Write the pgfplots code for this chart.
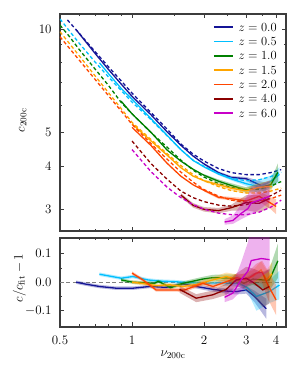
\RequirePackage{fix-cm}
\documentclass[border=0pt]{standalone}
\usepackage{pgfplots}
\pgfplotsset{compat=1.18}
\usepackage{pgfplotstable}

\definecolor{cz0}{RGB}{20,20,150}
\definecolor{cz05}{RGB}{0,191,255}
\definecolor{cz1}{RGB}{0,128,0}
\definecolor{cz15}{RGB}{255,165,0}
\definecolor{cz2}{RGB}{255,69,0}
\definecolor{cz4}{RGB}{139,0,0}
\definecolor{cz6}{RGB}{200,0,200}
\definecolor{framec}{RGB}{60,60,60}

% ---------- fits (dashed) ----------
\pgfplotstableread{
nu c
0.537 10.62
0.6 9.736
0.7 8.602
0.8 7.743
0.9 7.072
1.0 6.511
1.2 5.719
1.4 5.122
1.6 4.632
1.8 4.331
2.0 4.133
2.3 3.931
2.6 3.827
3.0 3.776
3.4 3.776
3.8 3.827
4.2 3.905
}\FitA
\pgfplotstableread{
nu c
0.5 10.692
0.55 9.828
0.6 9.106
0.7 8.023
0.8 7.235
0.9 6.630
1.0 6.131
1.2 5.453
1.4 4.899
1.6 4.461
1.8 4.158
2.0 3.992
2.3 3.799
2.6 3.684
3.0 3.625
3.4 3.650
3.8 3.726
4.2 3.840
}\FitB
\pgfplotstableread{
nu c
0.5 10.258
0.55 9.466
0.6 8.735
0.7 7.656
0.8 6.834
0.9 6.122
1.0 5.669
1.2 5.002
1.4 4.539
1.6 4.161
1.8 3.891
2.0 3.714
2.3 3.556
2.6 3.462
3.0 3.416
3.4 3.427
3.8 3.497
4.2 3.604
}\FitC
\pgfplotstableread{
nu c
0.5 9.814
0.55 9.034
0.6 8.377
0.7 7.315
0.8 6.511
0.9 5.875
1.0 5.355
1.2 4.774
1.4 4.346
1.6 4.011
1.8 3.776
2.0 3.628
2.3 3.485
2.6 3.393
3.0 3.341
3.4 3.337
3.8 3.382
4.2 3.450
}\FitD
\pgfplotstableread{
nu c
0.5 9.491
0.55 8.752
0.6 8.137
0.7 7.145
0.8 6.382
0.9 5.781
1.0 5.284
1.2 4.647
1.4 4.189
1.6 3.840
1.8 3.592
2.0 3.416
2.3 3.270
2.6 3.184
3.0 3.141
3.4 3.162
3.8 3.216
4.2 3.292
}\FitE
\pgfplotstableread{
nu c
1.0 4.726
1.2 4.065
1.4 3.664
1.6 3.382
1.8 3.237
2.0 3.152
2.3 3.079
2.6 3.058
3.0 3.089
3.4 3.173
3.8 3.281
4.2 3.404
}\FitF
\pgfplotstableread{
nu c
1.0 4.463
1.2 3.853
1.4 3.474
1.6 3.237
1.8 3.090
2.0 2.998
2.3 2.918
2.6 2.889
3.0 2.889
3.4 2.938
3.8 3.038
4.2 3.184
}\FitG

% ---------- measured (solid) ----------
\pgfplotstableread{
nu c
0.584 9.946
0.6 9.717
0.7 8.499
0.8 7.604
0.9 6.923
1.0 6.374
1.2 5.633
1.4 5.030
1.6 4.595
1.8 4.275
2.0 4.054
2.3 3.825
2.6 3.705
3.0 3.674
3.4 3.531
3.64 3.452
}\DatA
\pgfplotstableread{
nu c
0.731 7.975
0.8 7.394
0.9 6.723
1.0 6.254
1.2 5.491
1.4 4.914
1.6 4.461
1.8 4.150
2.0 3.976
2.3 3.791
2.6 3.669
3.0 3.553
3.4 3.482
3.8 3.607
4.13 3.782
}\DatB
\pgfplotstableread{
nu c
0.9 6.171
1.0 5.669
1.2 5.012
1.4 4.453
1.6 4.132
1.8 3.914
2.0 3.759
2.3 3.613
2.6 3.510
3.0 3.409
3.4 3.458
3.8 3.532
4.07 3.838
}\DatC
\pgfplotstableread{
nu c
1.0 5.300
1.2 4.731
1.4 4.303
1.6 3.955
1.8 3.738
2.0 3.624
2.3 3.530
2.6 3.447
3.0 3.388
3.4 3.470
3.85 3.490
}\DatD
\pgfplotstableread{
nu c
1.0 5.180
1.2 4.587
1.4 4.076
1.6 3.736
1.8 3.527
2.0 3.399
2.3 3.244
2.6 3.213
3.0 3.166
3.4 3.266
3.8 3.120
4.0 3.052
}\DatE
\pgfplotstableread{
nu c
1.6 3.294
1.8 3.075
2.0 2.994
2.3 2.968
2.6 3.027
3.0 3.132
3.4 3.116
3.75 3.219
}\DatF
\pgfplotstableread{
nu c
2.436 2.750
2.64 2.779
2.86 2.915
3.05 3.008
3.15 3.126
3.47 3.200
3.76 3.267
}\DatG

% ---------- upper bands (closed outlines: upper edge, then lower edge back) ----------
\pgfplotstableread{
nu c
2.0 4.082
2.3 3.856
2.6 3.742
3.0 3.718
3.4 3.619
3.64 3.573
3.64 3.331
3.4 3.443
3.0 3.630
2.6 3.668
2.3 3.794
2.0 4.026
}\BndA
\pgfplotstableread{
nu c
2.0 4.000
2.3 3.821
2.6 3.706
3.0 3.606
3.4 3.656
3.8 3.751
4.13 3.971
4.13 3.593
3.8 3.463
3.4 3.308
3.0 3.500
2.6 3.632
2.3 3.761
2.0 3.952
}\BndB
\pgfplotstableread{
nu c
2.0 3.789
2.3 3.656
2.6 3.563
3.0 3.470
3.4 3.544
3.8 3.638
4.07 4.068
4.07 3.608
3.8 3.426
3.4 3.372
3.0 3.348
2.6 3.457
2.3 3.570
2.0 3.729
}\BndC
\pgfplotstableread{
nu c
2.0 3.653
2.3 3.572
2.6 3.499
3.0 3.456
3.4 3.574
3.85 3.630
3.85 3.350
3.4 3.366
3.0 3.320
2.6 3.395
2.3 3.488
2.0 3.595
}\BndD
\pgfplotstableread{
nu c
2.0 3.426
2.3 3.276
2.6 3.252
3.0 3.229
3.4 3.380
3.8 3.245
4.0 3.205
4.0 2.899
3.8 2.995
3.4 3.152
3.0 3.103
2.6 3.174
2.3 3.212
2.0 3.372
}\BndE
\pgfplotstableread{
nu c
1.6 3.334
1.8 3.121
2.0 3.039
2.3 3.021
2.6 3.088
3.0 3.289
3.4 3.303
3.75 3.412
3.75 3.026
3.4 2.929
3.0 2.975
2.6 2.966
2.3 2.915
2.0 2.949
1.8 3.029
1.6 3.254
}\BndF
\pgfplotstableread{
nu c
2.436 2.802
2.64 2.875
2.86 3.091
3.05 3.300
3.15 3.486
3.47 3.546
3.76 3.634
3.76 3.149
3.47 3.014
3.15 2.890
3.05 2.866
2.86 2.802
2.64 2.716
2.436 2.701
}\BndG

% ---------- residuals ----------
\pgfplotstableread{
nu r
0.584 0.000
0.643 -0.007
0.731 -0.015
0.859 -0.021
1.008 -0.021
1.184 -0.015
1.389 -0.018
1.631 -0.006
1.855 -0.015
2.177 -0.025
2.476 -0.031
2.726 -0.033
3.001 -0.027
3.252 -0.050
3.639 -0.093
}\ResA
\pgfplotstableread{
nu r
0.731 0.028
0.800 0.022
0.901 0.014
1.008 0.020
1.164 0.008
1.300 0.004
1.505 0.002
1.685 -0.001
1.976 -0.004
2.300 -0.002
2.600 -0.004
2.812 -0.004
3.050 -0.021
3.310 -0.050
3.750 -0.033
4.130 -0.010
}\ResB
\pgfplotstableread{
nu r
0.901 0.008
1.008 0.000
1.120 -0.002
1.240 -0.004
1.290 0.003
1.450 -0.019
1.631 -0.004
1.976 0.011
2.177 0.016
2.690 0.014
2.930 -0.004
3.200 0.011
3.520 0.008
3.750 0.008
4.070 0.075
}\ResC
\pgfplotstableread{
nu r
1.000 0.000
1.100 -0.004
1.260 -0.012
1.435 -0.009
1.631 -0.015
1.855 -0.008
2.177 0.008
2.476 0.020
2.810 0.008
3.200 0.020
3.460 0.043
3.650 0.009
3.850 0.030
}\ResD
\pgfplotstableread{
nu r
1.000 0.032
1.110 0.008
1.260 -0.027
1.480 -0.027
1.660 -0.027
1.980 -0.004
2.180 -0.015
2.480 0.002
2.730 0.016
3.000 0.008
3.300 0.032
3.500 0.035
3.700 -0.010
4.000 -0.062
}\ResE
\pgfplotstableread{
nu r
1.580 -0.025
1.855 -0.056
2.177 -0.044
2.476 -0.025
2.726 0.008
3.001 0.014
3.250 -0.004
3.520 -0.027
3.750 -0.015
}\ResF
\pgfplotstableread{
nu r
2.436 -0.053
2.640 -0.038
2.860 0.009
3.050 0.039
3.150 0.076
3.470 0.083
3.760 0.079
}\ResG

% ---------- residual bands (closed outlines) ----------
\pgfplotstableread{
nu r
0.584 0.006
0.643 -0.001
0.731 -0.009
0.859 -0.015
1.008 -0.015
1.184 -0.009
1.389 -0.012
1.631 0.000
1.855 -0.008
2.177 -0.017
2.476 -0.022
2.726 -0.023
3.001 -0.014
3.252 -0.030
3.639 -0.058
3.639 -0.128
3.252 -0.070
3.001 -0.040
2.726 -0.043
2.476 -0.040
2.177 -0.033
1.855 -0.022
1.631 -0.012
1.389 -0.024
1.184 -0.021
1.008 -0.027
0.859 -0.027
0.731 -0.021
0.643 -0.013
0.584 -0.006
}\PolA
\pgfplotstableread{
nu r
0.731 0.034
0.800 0.028
0.901 0.020
1.008 0.026
1.164 0.014
1.300 0.010
1.505 0.008
1.685 0.005
1.976 0.002
2.300 0.006
2.600 0.006
2.812 0.008
3.050 -0.006
3.310 0.000
3.750 0.007
4.130 0.040
4.130 -0.060
3.750 -0.073
3.310 -0.100
3.050 -0.036
2.812 -0.016
2.600 -0.014
2.300 -0.010
1.976 -0.010
1.685 -0.007
1.505 -0.004
1.300 -0.002
1.164 0.002
1.008 0.014
0.901 0.008
0.800 0.016
0.731 0.022
}\PolB
\pgfplotstableread{
nu r
0.901 0.014
1.008 0.006
1.120 0.004
1.240 0.002
1.290 0.009
1.450 -0.013
1.631 0.003
1.976 0.019
2.177 0.026
2.690 0.028
2.930 0.012
3.200 0.031
3.520 0.038
3.750 0.046
4.070 0.135
4.070 0.015
3.750 -0.030
3.520 -0.022
3.200 -0.009
2.930 -0.020
2.690 0.000
2.177 0.006
1.976 0.003
1.631 -0.011
1.450 -0.025
1.290 -0.003
1.240 -0.010
1.120 -0.008
1.008 -0.006
0.901 0.002
}\PolC
\pgfplotstableread{
nu r
1.000 0.006
1.100 0.002
1.260 -0.006
1.435 -0.003
1.631 -0.008
1.855 0.000
2.177 0.018
2.476 0.034
2.810 0.026
3.200 0.042
3.460 0.073
3.650 0.043
3.850 0.070
3.850 -0.010
3.650 -0.025
3.460 0.013
3.200 -0.002
2.810 -0.010
2.476 0.006
2.177 -0.002
1.855 -0.016
1.631 -0.022
1.435 -0.015
1.260 -0.018
1.100 -0.010
1.000 -0.006
}\PolD
\pgfplotstableread{
nu r
1.000 0.038
1.110 0.014
1.260 -0.021
1.480 -0.021
1.660 -0.020
1.980 0.004
2.180 -0.006
2.480 0.014
2.730 0.030
3.000 0.028
3.300 0.064
3.500 0.075
3.700 0.040
4.000 -0.009
4.000 -0.115
3.700 -0.060
3.500 -0.005
3.300 0.000
3.000 -0.012
2.730 0.002
2.480 -0.010
2.180 -0.024
1.980 -0.012
1.660 -0.034
1.480 -0.033
1.260 -0.033
1.110 0.002
1.000 0.026
}\PolE
\pgfplotstableread{
nu r
1.580 -0.013
1.855 -0.042
2.177 -0.029
2.476 -0.005
2.726 0.030
3.001 0.054
3.250 0.046
3.520 0.033
3.750 0.045
3.750 -0.075
3.520 -0.087
3.250 -0.054
3.001 -0.026
2.726 -0.014
2.476 -0.045
2.177 -0.059
1.855 -0.070
1.580 -0.037
}\PolF
\pgfplotstableread{
nu r
2.436 -0.035
2.640 -0.005
2.860 0.070
3.050 0.140
3.150 0.200
3.470 0.200
3.760 0.200
3.760 0.040
3.470 0.020
3.150 -0.005
3.050 -0.010
2.860 -0.030
2.640 -0.060
2.436 -0.070
}\PolG

\newcommand{\legrow}[3]{%
  \draw[draw=#1, line width=1.6bp] (axis description cs:0.681,#2) -- (axis description cs:0.767,#2);
  \node[anchor=west, inner sep=0pt, font=\fontsize{12.5}{14}\selectfont] at (axis description cs:0.789,#2) {#3};
}

\begin{document}
\begin{tikzpicture}
\path[use as bounding box] (0,0) rectangle (295bp,376bp);

\begin{axis}[
  scale only axis, width=226bp, height=217bp,
  at={(60bp,145bp)}, anchor=south west,
  xmode=log, ymode=log,
  xmin=0.5, xmax=4.4, ymin=2.59, ymax=11.05,
  axis line style={framec, line width=1.1bp},
  every tick/.style={framec, line width=0.7bp},
  major tick length=4.5bp, minor tick length=2.5bp,
  xtick={0.5,1,2,3,4}, xticklabels={},
  minor xtick={0.6,0.7,0.8,0.9,1.5,2.5,3.5},
  ytick={3,4,5,10}, yticklabels={3,4,5,10},
  minor ytick={6,7,8,9},
  tick label style={font=\fontsize{13}{15}\selectfont},
  yticklabel style={xshift=-5bp},
  label style={font=\fontsize{13}{15}\selectfont},
  ylabel={$c_{\mathrm{200c}}$},
  ylabel style={at={(axis description cs:-0.165,0.51)}, anchor=center},
]
\addplot[fill=cz0, fill opacity=0.3, draw=none, forget plot] table[x=nu,y=c]{\BndA};
\addplot[cz0, line width=1.3bp, forget plot] table[x=nu,y=c]{\DatA};
\addplot[cz0, line width=1.3bp, dash pattern=on 3.5bp off 2.5bp, forget plot] table[x=nu,y=c]{\FitA};
\addplot[fill=cz05, fill opacity=0.3, draw=none, forget plot] table[x=nu,y=c]{\BndB};
\addplot[cz05, line width=1.3bp, forget plot] table[x=nu,y=c]{\DatB};
\addplot[cz05, line width=1.3bp, dash pattern=on 3.5bp off 2.5bp, forget plot] table[x=nu,y=c]{\FitB};
\addplot[fill=cz1, fill opacity=0.3, draw=none, forget plot] table[x=nu,y=c]{\BndC};
\addplot[cz1, line width=1.3bp, forget plot] table[x=nu,y=c]{\DatC};
\addplot[cz1, line width=1.3bp, dash pattern=on 3.5bp off 2.5bp, forget plot] table[x=nu,y=c]{\FitC};
\addplot[fill=cz15, fill opacity=0.3, draw=none, forget plot] table[x=nu,y=c]{\BndD};
\addplot[cz15, line width=1.3bp, forget plot] table[x=nu,y=c]{\DatD};
\addplot[cz15, line width=1.3bp, dash pattern=on 3.5bp off 2.5bp, forget plot] table[x=nu,y=c]{\FitD};
\addplot[fill=cz2, fill opacity=0.3, draw=none, forget plot] table[x=nu,y=c]{\BndE};
\addplot[cz2, line width=1.3bp, forget plot] table[x=nu,y=c]{\DatE};
\addplot[cz2, line width=1.3bp, dash pattern=on 3.5bp off 2.5bp, forget plot] table[x=nu,y=c]{\FitE};
\addplot[fill=cz4, fill opacity=0.3, draw=none, forget plot] table[x=nu,y=c]{\BndF};
\addplot[cz4, line width=1.3bp, forget plot] table[x=nu,y=c]{\DatF};
\addplot[cz4, line width=1.3bp, dash pattern=on 3.5bp off 2.5bp, forget plot] table[x=nu,y=c]{\FitF};
\addplot[fill=cz6, fill opacity=0.3, draw=none, forget plot] table[x=nu,y=c]{\BndG};
\addplot[cz6, line width=1.3bp, forget plot] table[x=nu,y=c]{\DatG};
\addplot[cz6, line width=1.3bp, dash pattern=on 3.5bp off 2.5bp, forget plot] table[x=nu,y=c]{\FitG};

\legrow{cz0}{0.939}{$z = 0.0$}
\legrow{cz05}{0.873}{$z = 0.5$}
\legrow{cz1}{0.807}{$z = 1.0$}
\legrow{cz15}{0.741}{$z = 1.5$}
\legrow{cz2}{0.675}{$z = 2.0$}
\legrow{cz4}{0.609}{$z = 4.0$}
\legrow{cz6}{0.543}{$z = 6.0$}
\end{axis}

\begin{axis}[
  scale only axis, width=226bp, height=89bp,
  at={(60bp,49bp)}, anchor=south west,
  xmode=log,
  xmin=0.5, xmax=4.4, ymin=-0.157, ymax=0.155,
  axis line style={framec, line width=1.1bp},
  every tick/.style={framec, line width=0.7bp},
  major tick length=4.5bp, minor tick length=2.5bp,
  xtick={0.5,1,2,3,4}, xticklabels={0.5,1,2,3,4},
  minor xtick={0.6,0.7,0.8,0.9,1.5,2.5,3.5},
  ytick={-0.1,0,0.1}, yticklabels={$-0.1$,$0.0$,$0.1$},
  minor ytick={-0.05,0.05},
  tick label style={font=\fontsize{13}{15}\selectfont},
  xticklabel style={yshift=-5bp},
  yticklabel style={xshift=-5bp},
  label style={font=\fontsize{13}{15}\selectfont},
  xlabel={$\nu_{\mathrm{200c}}$},
  xlabel style={at={(axis description cs:0.5,-0.315)}, anchor=center},
  ylabel={$c/c_{\mathrm{fit}}-1$},
  ylabel style={at={(axis description cs:-0.18,0.55)}, anchor=center},
]
\addplot[gray, line width=1bp, dash pattern=on 4bp off 2.5bp, forget plot] coordinates {(0.5,0) (4.4,0)};
\addplot[fill=cz0, fill opacity=0.3, draw=none, forget plot] table[x=nu,y=r]{\PolA};
\addplot[cz0, line width=1.3bp, forget plot] table[x=nu,y=r]{\ResA};
\addplot[fill=cz05, fill opacity=0.3, draw=none, forget plot] table[x=nu,y=r]{\PolB};
\addplot[cz05, line width=1.3bp, forget plot] table[x=nu,y=r]{\ResB};
\addplot[fill=cz1, fill opacity=0.3, draw=none, forget plot] table[x=nu,y=r]{\PolC};
\addplot[cz1, line width=1.3bp, forget plot] table[x=nu,y=r]{\ResC};
\addplot[fill=cz15, fill opacity=0.3, draw=none, forget plot] table[x=nu,y=r]{\PolD};
\addplot[cz15, line width=1.3bp, forget plot] table[x=nu,y=r]{\ResD};
\addplot[fill=cz2, fill opacity=0.3, draw=none, forget plot] table[x=nu,y=r]{\PolE};
\addplot[cz2, line width=1.3bp, forget plot] table[x=nu,y=r]{\ResE};
\addplot[fill=cz4, fill opacity=0.3, draw=none, forget plot] table[x=nu,y=r]{\PolF};
\addplot[cz4, line width=1.3bp, forget plot] table[x=nu,y=r]{\ResF};
\addplot[fill=cz6, fill opacity=0.3, draw=none, forget plot] table[x=nu,y=r]{\PolG};
\addplot[cz6, line width=1.3bp, forget plot] table[x=nu,y=r]{\ResG};
\end{axis}
\end{tikzpicture}
\end{document}
